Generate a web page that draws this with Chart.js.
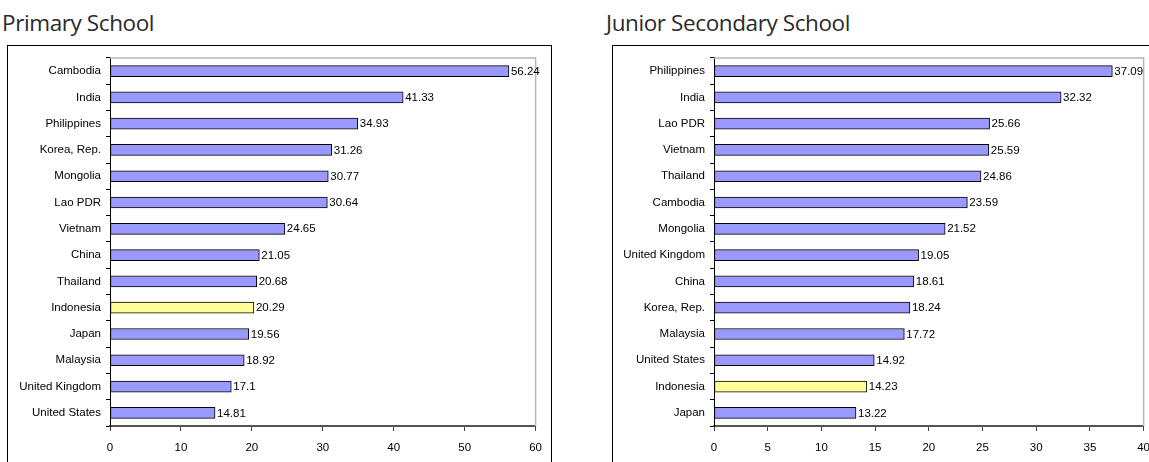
<!DOCTYPE html>
<html>
<head>
<meta charset="utf-8">
<script src="https://cdn.jsdelivr.net/npm/chart.js@4.4.1/dist/chart.umd.min.js"></script>
<style>
  html, body { margin: 0; padding: 0; background: #fff; overflow: hidden; width: 1149px; height: 462px; }
  .panel-title { position: absolute; font-family: "Open Sans", "Noto Sans", sans-serif; font-size: 22.5px; color: #2a2a2a; white-space: nowrap; letter-spacing: -0.4px; }
  .frame { position: absolute; border: 1px solid #000; box-sizing: border-box; }
  canvas { position: absolute; }
</style>
</head>
<body>
<div class="panel-title" style="left:2px; top:7px;">Primary School</div>
<div class="panel-title" style="left:606px; top:7px;">Junior Secondary School</div>
<div class="frame" style="left:7px; top:45px; width:545px; height:440px;"></div>
<div class="frame" style="left:612px; top:45px; width:560px; height:440px;"></div>
<div style="position:absolute; left:8px; top:46px; width:544px; height:420px;"><canvas id="primaryChart"></canvas></div>
<div style="position:absolute; left:613px; top:46px; width:547px; height:420px;"><canvas id="secondaryChart"></canvas></div>

<script>
// Pupil-teacher ratios, sorted high to low
const primaryCountries = ['Cambodia', 'India', 'Philippines', 'Korea, Rep.', 'Mongolia', 'Lao PDR', 'Vietnam',
  'China', 'Thailand', 'Indonesia', 'Japan', 'Malaysia', 'United Kingdom', 'United States'];
const primaryValues = [56.24, 41.33, 34.93, 31.26, 30.77, 30.64, 24.65, 21.05, 20.68, 20.29, 19.56, 18.92, 17.1, 14.81];
const primaryTicks = [0, 10, 20, 30, 40, 50, 60];

const secondaryCountries = ['Philippines', 'India', 'Lao PDR', 'Vietnam', 'Thailand', 'Cambodia', 'Mongolia',
  'United Kingdom', 'China', 'Korea, Rep.', 'Malaysia', 'United States', 'Indonesia', 'Japan'];
const secondaryValues = [37.09, 32.32, 25.66, 25.59, 24.86, 23.59, 21.52, 19.05, 18.61, 18.24, 17.72, 14.92, 14.23, 13.22];
const secondaryTicks = [0, 5, 10, 15, 20, 25, 30, 35, 40];

const highlight = 'Indonesia';
const BAR_COLOR = '#9999ff';
const HIGHLIGHT_COLOR = '#ffff99';
const FONT = { family: '"Liberation Sans", Arial, sans-serif', size: 11.5 };

// gray frame on top/right of the plot area plus value labels at bar ends
const plotExtras = {
  id: 'plotExtras',
  beforeDatasetsDraw(chart) {
    const { ctx, chartArea: a } = chart;
    ctx.save();
    ctx.strokeStyle = '#b8b8b8';
    ctx.lineWidth = 1.5;
    ctx.beginPath();
    ctx.moveTo(a.left, a.top);
    ctx.lineTo(a.right, a.top);
    ctx.lineTo(a.right, a.bottom);
    ctx.stroke();
    ctx.restore();
  },
  afterDatasetsDraw(chart) {
    const { ctx } = chart;
    const ds = chart.data.datasets[0];
    const meta = chart.getDatasetMeta(0);
    ctx.save();
    ctx.font = FONT.size + 'px ' + FONT.family;
    ctx.fillStyle = '#000';
    ctx.textBaseline = 'middle';
    ctx.textAlign = 'left';
    meta.data.forEach((bar, i) => {
      ctx.fillText(String(ds.data[i]), bar.x + 2, bar.y + 0.5);
    });
    ctx.restore();
  }
};

function makeChart(id, labels, values, ticks, yWidth) {
  const max = ticks[ticks.length - 1];
  const step = ticks[1] - ticks[0];
  return new Chart(document.getElementById(id), {
    type: 'bar',
    data: {
      labels: labels,
      datasets: [{
        data: values,
        backgroundColor: labels.map(l => l === highlight ? HIGHLIGHT_COLOR : BAR_COLOR),
        borderColor: '#000',
        borderWidth: 1,
        borderSkipped: false,
        barThickness: 11
      }]
    },
    options: {
      indexAxis: 'y',
      responsive: true,
      maintainAspectRatio: false,
      animation: false,
      layout: { padding: { top: 10, right: 0, bottom: 0, left: 0 } },
      plugins: { legend: { display: false }, tooltip: { enabled: false } },
      scales: {
        x: {
          min: 0,
          max: max,
          afterBuildTicks: s => { s.ticks = ticks.map(v => ({ value: v })); },
          ticks: { stepSize: step, color: '#000', font: FONT, padding: 10, maxRotation: 0 },
          grid: { drawOnChartArea: false, drawTicks: true, tickLength: 5, color: '#444' },
          border: { color: '#555', width: 2 },
          afterFit: s => { s.height = 40; }
        },
        y: {
          ticks: { color: '#000', font: FONT, padding: 5, autoSkip: false },
          grid: { drawOnChartArea: false, drawTicks: true, tickLength: 4, color: '#000', offset: true },
          border: { color: '#000', width: 1 },
          afterFit: s => { s.width = yWidth; }
        }
      }
    },
    plugins: [plotExtras]
  });
}

makeChart('primaryChart', primaryCountries, primaryValues, primaryTicks, 102);
makeChart('secondaryChart', secondaryCountries, secondaryValues, secondaryTicks, 101);
</script>
</body>
</html>
